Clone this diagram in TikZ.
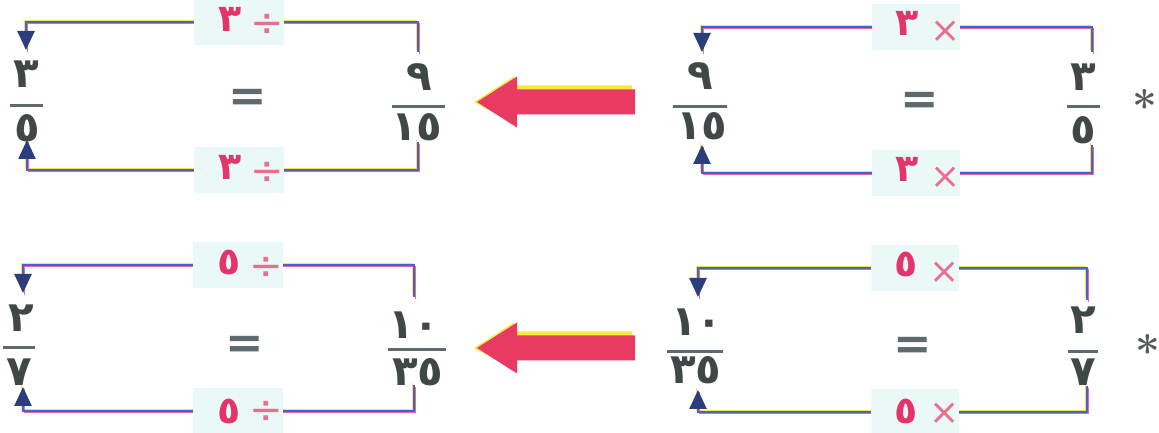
\documentclass[tikz,border=0pt]{standalone}
\usepackage{fontspec}
\newfontfamily\arabicfont[Script=Arabic]{DejaVu Sans}
\newfontfamily\eqfont{DejaVu Sans}
\usetikzlibrary{arrows.meta,backgrounds}
\definecolor{numcol}{HTML}{3F4747}
\definecolor{barcol}{HTML}{5F6A6E}
\definecolor{linecol}{HTML}{4A5FD0}
\definecolor{lineyel}{HTML}{F2E64A}
\definecolor{linepink}{HTML}{E46A9A}
\definecolor{arrowcol}{HTML}{2B3D7A}
\definecolor{labbg}{HTML}{EAF8F8}
\definecolor{labred}{HTML}{E5346A}
\definecolor{oppink}{HTML}{E8708C}
\definecolor{bigred}{HTML}{E83A62}
\definecolor{bigyel}{HTML}{F5EC3C}
\definecolor{starcol}{HTML}{555B5B}
\newcommand\labnum[1]{{\color{labred}\arabicfont\bfseries\fontsize{38}{38}\selectfont #1}}
\newcommand\labdiv[1][-5pt]{\hspace{9pt}\raisebox{#1}{\color{oppink}\eqfont\fontsize{40}{40}\selectfont ÷}}
\newcommand\labtimes[1][-7pt]{\hspace{11pt}\raisebox{#1}{\color{oppink}\eqfont\fontsize{36}{36}\selectfont ×}}
\newcommand\labtext[2]{\hspace{24pt}\labnum{#1}#2}
\newcommand\redarrowat[1]{%
  \fill[bigyel] (474,#1) -- (514,#1+25.5) -- (514,#1+16.5) -- (632,#1+16.5) -- (632,#1-8.5) -- (514,#1-8.5) -- (514,#1-21.5) -- cycle;
  \fill[bigred] (477,#1) -- (517,#1+25.5) -- (517,#1+12.5) -- (635,#1+12.5) -- (635,#1-12.5) -- (517,#1-12.5) -- (517,#1-25.5) -- cycle;}
\begin{document}
\begin{tikzpicture}[x=1pt,y=1pt,
  num/.style={font=\arabicfont\bfseries\fontsize{42}{42}\selectfont, text=numcol, inner sep=0pt},
  fbar/.style={fill=barcol, inner sep=0pt, minimum height=3pt},
  eqs/.style={font=\eqfont\bfseries\fontsize{46}{46}\selectfont, text=barcol, inner sep=0pt},
  starnode/.style={font=\bfseries\fontsize{44}{44}\selectfont, text=starcol, inner sep=0pt},
  lab/.style={fill=labbg, minimum width=88pt, minimum height=46pt, inner sep=0pt},
  conn/.style={draw=linecol, line width=2.6pt,
    preaction={draw=lineyel, line width=0.9pt, arrows=-, transform canvas={shift={(-1.8pt,1.8pt)}}},
    preaction={draw=linepink, line width=1pt, arrows=-, transform canvas={shift={(1.8pt,-1.8pt)}}}},
  arr/.style={-{Triangle[width=17pt,length=19pt,color=arrowcol]}}
]
\useasboundingbox (0,0) rectangle (1159,433);

% ---------- group 1 (top left)
\node[num] (n1l) at (26,359) {٣};
\node[fbar, minimum width=33pt] (b1l) at (26.5,327.5) {};
\node[num] (d1l) at (27,305) {٥};
\node[num] (n1r) at (419,356) {٩};
\node[fbar, minimum width=53pt] (b1r) at (418.5,326.5) {};
\node[num] (d1r) at (417,306) {١٥};
\node[eqs] (e1) at (248,333) {=};
\node[lab] (l1t) at (239,411) {\labtext{٣}{\labdiv}};
\node[lab] (l1b) at (239,263) {\labtext{٣}{\labdiv}};

% ---------- group 2 (top right)
\node[num] (n2l) at (700,357) {٩};
\node[fbar, minimum width=54pt] (b2l) at (700,326) {};
\node[num] (d2l) at (702,307) {١٥};
\node[num] (n2r) at (1083,356) {٣};
\node[fbar, minimum width=33pt] (b2r) at (1083,326) {};
\node[num] (d2r) at (1083,303) {٥};
\node[eqs] (e2) at (920,330) {=};
\node[starnode] (s1) at (1145,327) {*};
\node[lab] (l2t) at (916,406) {\labtext{٣}{\labtimes}};
\node[lab] (l2b) at (916,260) {\labtext{٣}{\labtimes}};

% ---------- group 3 (bottom left)
\node[num] (n3l) at (21,115) {٢};
\node[fbar, minimum width=32pt] (b3l) at (19,85) {};
\node[num] (d3l) at (19,61) {٧};
\node[num] (n3r) at (414,108) {١٠};
\node[fbar, minimum width=58pt] (b3r) at (417,83) {};
\node[num] (d3r) at (418,61) {٣٥};
\node[eqs] (e3) at (245,86) {=};
\node[lab] (l3t) at (238,168) {\labtext{٥}{\labdiv}};
\node[lab] (l3b) at (238,22) {\labtext{٥}{\labdiv[0pt]}};

% ---------- group 4 (bottom right)
\node[num] (n4l) at (697,111) {١٠};
\node[fbar, minimum width=56pt] (b4l) at (695,81) {};
\node[num] (d4l) at (696,63) {٣٥};
\node[num] (n4r) at (1083,113) {٢};
\node[fbar, minimum width=30pt] (b4r) at (1083,81) {};
\node[num] (d4r) at (1083,61) {٧};
\node[eqs] (e4) at (913,85) {=};
\node[starnode] (s2) at (1148,82) {*};
\node[lab] (l4t) at (915,165) {\labtext{٥}{\labtimes}};
\node[lab] (l4b) at (915,21) {\labtext{٥}{\labtimes[-1pt]}};

% ---------- big arrows
\redarrowat{331}
\redarrowat{85}

% ---------- connectors
\begin{pgfonlayer}{background}
\fill[white] (0,0) rectangle (1159,433);
\draw[conn,arr] ([xshift=-1pt,yshift=25pt]n1r.center) |- (l1t.center) -| ([yshift=24pt]n1l.center);
\draw[conn,arr] ([xshift=1pt,yshift=-15pt]d1r.center) |- (l1b.center) -| ([yshift=-12pt]d1l.center);
\draw[conn,arr] ([xshift=9pt,yshift=25pt]n2r.center) |- (l2t.center) -| ([xshift=2pt,yshift=24pt]n2l.center);
\draw[conn,arr] ([xshift=9pt,yshift=-15pt]d2r.center) |- (l2b.center) -| ([yshift=-19pt]d2l.center);
\draw[conn,arr] ([yshift=28pt]n3r.center) |- (l3t.center) -| ([xshift=2pt,yshift=25pt]n3l.center);
\draw[conn,arr] ([xshift=-4pt,yshift=-13pt]d3r.center) |- (l3b.center) -| ([xshift=4pt,yshift=-15pt]d3l.center);
\draw[conn,arr] ([xshift=4pt,yshift=20pt]n4r.center) |- (l4t.center) -| ([xshift=1pt,yshift=25pt]n4l.center);
\draw[conn,arr] ([xshift=4pt,yshift=-14pt]d4r.center) |- (l4b.center) -| ([xshift=2pt,yshift=-20pt]d4l.center);
\end{pgfonlayer}
\end{tikzpicture}
\end{document}
